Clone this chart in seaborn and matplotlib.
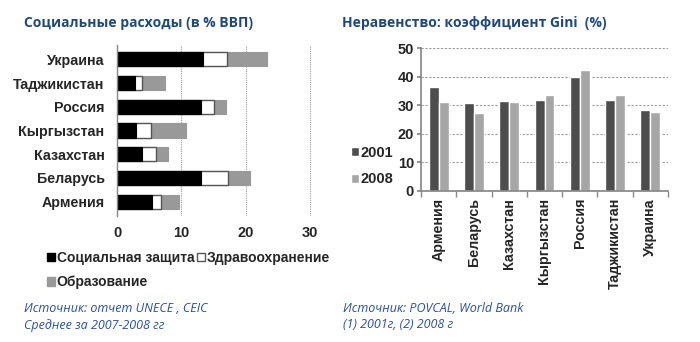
import numpy as np
import pandas as pd
import matplotlib
matplotlib.use("Agg")
import matplotlib.pyplot as plt
import seaborn as sns
from matplotlib.patches import Patch

sns.set_theme(style="white")
plt.rcParams['font.family'] = ['Liberation Sans', 'DejaVu Sans']

# ---- data: social spending (% GDP) ----
countries_left = ["Украина", "Таджикистан", "Россия", "Кыргызстан", "Казахстан", "Беларусь", "Армения"]
social_protection = [13.3, 2.8, 13.0, 2.9, 3.9, 13.0, 5.4]
health = [3.8, 1.15, 2.1, 2.4, 2.2, 4.2, 1.5]
education = [6.2, 3.55, 1.9, 5.4, 1.9, 3.4, 2.8]
left_series = ["Социальная защита", "Здравоохранение", "Образование"]
left_xticks = [0, 10, 20, 30]

# ---- data: Gini ----
countries_right = ["Армения", "Беларусь", "Казахстан", "Кыргызстан", "Россия", "Таджикистан", "Украина"]
gini_2001 = [36.2, 30.7, 31.4, 31.8, 39.7, 31.8, 28.4]
gini_2008 = [31.0, 27.1, 31.0, 33.6, 42.3, 33.6, 27.6]
years = ["2001", "2008"]
right_yticks = [0, 10, 20, 30, 40, 50]

title_color = "#1F497D"
src_color = "#2A5199"

fig = plt.figure(figsize=(7.0, 3.42), dpi=100)

# ---------- left chart ----------
ax1 = fig.add_axes([117/700, 1-216/342, (312-117)/700, (216-45)/342])
dfl = pd.DataFrame({"country": countries_left,
                    "sp": social_protection, "h": health, "e": education})
dfl["c1"] = dfl["sp"]
dfl["c2"] = dfl["sp"] + dfl["h"]
dfl["c3"] = dfl["c2"] + dfl["e"]
w = 0.6
sns.barplot(data=dfl, y="country", x="c3", color="#999999", width=w, ax=ax1,
            edgecolor="#999999", linewidth=0.8, saturation=1, orient="h")
sns.barplot(data=dfl, y="country", x="c2", color="white", width=w, ax=ax1,
            edgecolor="#555555", linewidth=1.0, saturation=1, orient="h")
sns.barplot(data=dfl, y="country", x="c1", color="black", width=w, ax=ax1,
            edgecolor="black", linewidth=0.8, saturation=1, orient="h")
ax1.set_xlim(0, 30.3)
ax1.set_ylim(6.6, -0.6)
ax1.set_xticks(left_xticks)
ax1.set_xticklabels([str(t) for t in left_xticks], fontsize=10.5, fontweight="bold")
ax1.set_yticklabels(countries_left, fontsize=10.3, fontweight="bold")
ax1.set_xlabel("")
ax1.set_ylabel("")
ax1.tick_params(axis="y", length=0, pad=9)
ax1.tick_params(axis="x", length=0, pad=7)
for t in left_xticks[1:]:
    ax1.axvline(t, color="#9a9a9a", linestyle=(0, (1, 1)), linewidth=0.8, zorder=0)
for s in ["top", "right", "bottom"]:
    ax1.spines[s].set_visible(False)
ax1.spines["left"].set_color("#888888")
ax1.spines["left"].set_linewidth(1.0)

handles = [Patch(facecolor="black", edgecolor="black"),
           Patch(facecolor="#999999", edgecolor="#999999"),
           Patch(facecolor="white", edgecolor="#555555")]
labels = [left_series[0], left_series[2], left_series[1]]
fig.legend(handles, labels, ncol=2, loc="upper left",
           bbox_to_anchor=(47/700, 1-251/342), frameon=False,
           prop={"size": 10, "weight": "bold"}, handlelength=0.55,
           handleheight=0.55, handletextpad=0.15, columnspacing=0.2,
           labelspacing=0.75, borderaxespad=0, borderpad=0)

# ---------- right chart ----------
ax2 = fig.add_axes([421/700, 1-191/342, (668-421)/700, (191-48)/342])
dfr = pd.DataFrame({"country": countries_right * 2,
                    "year": [years[0]] * 7 + [years[1]] * 7,
                    "gini": gini_2001 + gini_2008})
sns.barplot(data=dfr, x="country", y="gini", hue="year",
            palette=["#4D4D4D", "#A6A6A6"], width=0.56, saturation=1,
            ax=ax2, legend=False)
ax2.set_ylim(0, 50)
ax2.set_xlim(-0.5, 6.5)
ax2.set_yticks(right_yticks)
ax2.set_yticklabels([str(t) for t in right_yticks], fontsize=10.5, fontweight="bold")
ax2.set_xticks(range(len(countries_right)))
ax2.set_xticklabels(countries_right, rotation=90, fontsize=10.3, fontweight="bold")
ax2.set_xlabel("")
ax2.set_ylabel("")
for t in right_yticks[1:]:
    ax2.axhline(t, color="#9a9a9a", linestyle=(0, (2, 1.5)), linewidth=0.8, zorder=0)
for s in ["top", "right"]:
    ax2.spines[s].set_visible(False)
ax2.spines["left"].set_color("#888888")
ax2.spines["bottom"].set_color("#888888")
ax2.tick_params(axis="y", length=3, color="#888888", pad=2, left=True)
ax2.tick_params(axis="x", length=0, pad=5)
ax2.set_xticks(np.arange(-0.5, 7.0, 1.0), minor=True)
ax2.tick_params(axis="x", which="minor", length=4, color="#888888", bottom=True)

h2 = [Patch(facecolor="#4D4D4D"), Patch(facecolor="#A6A6A6")]
fig.legend(h2, years, loc="upper left", bbox_to_anchor=(351/700, 1-146/342),
           frameon=False, prop={"size": 10.5, "weight": "bold"},
           handlelength=0.55, handleheight=0.55, handletextpad=0.1,
           labelspacing=0.85, borderaxespad=0, borderpad=0)

# ---------- titles & sources ----------
fig.text(24/700, 1-23/342, "Социальные расходы (в % ВВП)", fontsize=10,
         fontweight="bold", color=title_color, family=["Open Sans", "DejaVu Sans"],
         va="center", ha="left")
fig.text(342/700, 1-23/342, "Неравенство: коэффициент Gini  (%)", fontsize=10,
         fontweight="bold", color=title_color, family=["Open Sans", "DejaVu Sans"],
         va="center", ha="left")
fig.text(24/700, 1-308/342, "Источник: отчет UNECE , CEIC", fontsize=9,
         style="italic", color=src_color, family=["Open Sans", "DejaVu Sans"],
         va="center", ha="left")
fig.text(24/700, 1-325/342, "Среднее за 2007-2008 гг", fontsize=9,
         style="italic", color=src_color, family=["Open Sans", "DejaVu Sans"],
         va="center", ha="left")
fig.text(343/700, 1-308/342, "Источник: POVCAL, World Bank", fontsize=9,
         style="italic", color=src_color, family=["Open Sans", "DejaVu Sans"],
         va="center", ha="left")
fig.text(343/700, 1-325/342, "(1) 2001г, (2) 2008 г", fontsize=9,
         style="italic", color=src_color, family=["Open Sans", "DejaVu Sans"],
         va="center", ha="left")

fig.savefig("out.png", dpi=100)
